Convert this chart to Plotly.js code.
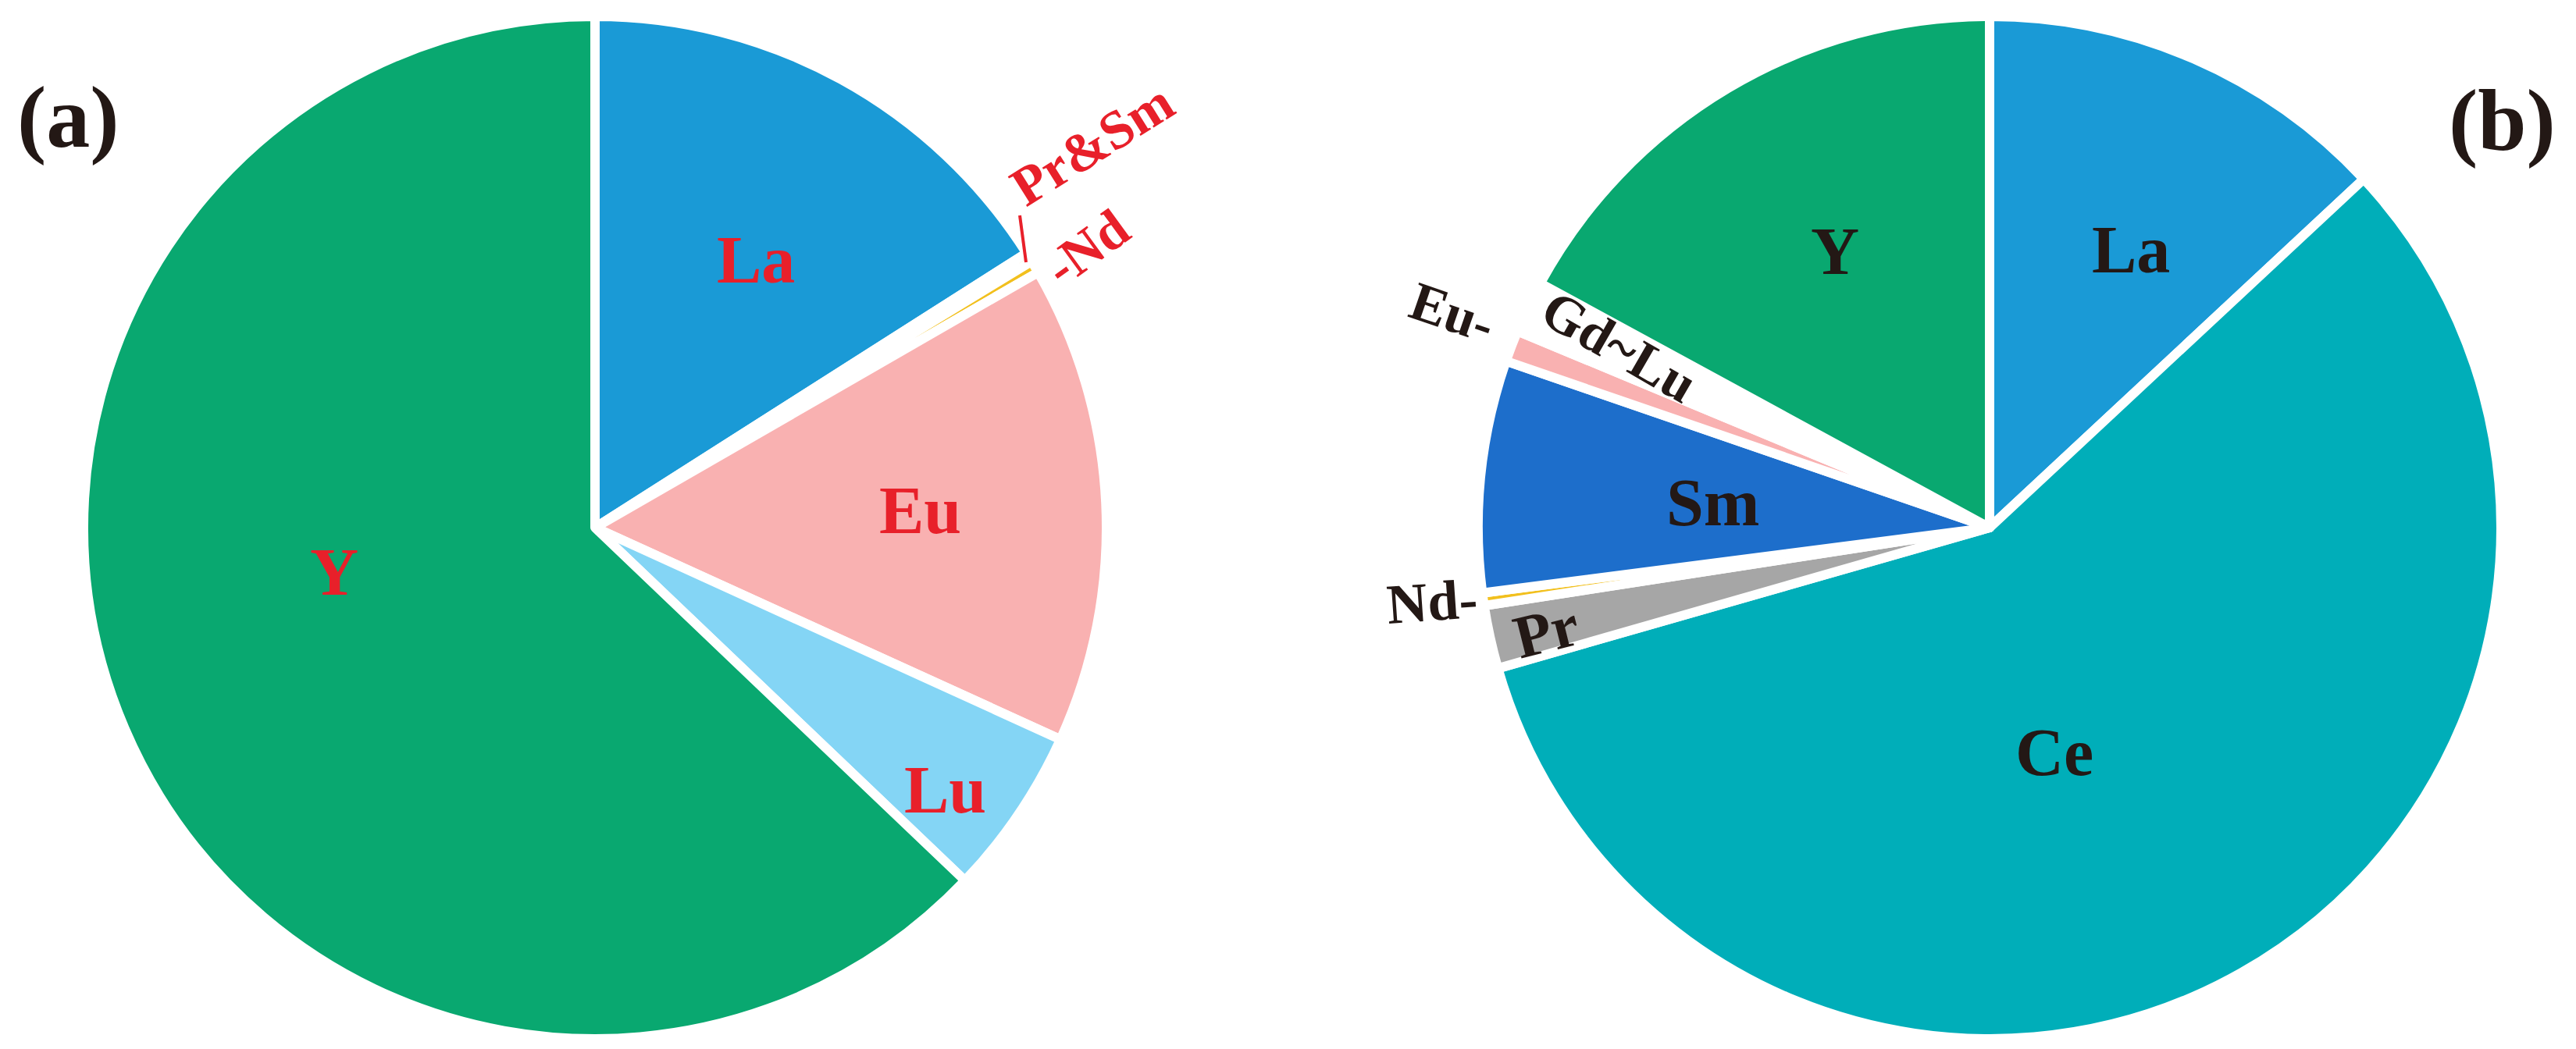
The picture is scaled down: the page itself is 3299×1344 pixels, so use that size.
<!DOCTYPE html>
<html>
<head>
<meta charset="utf-8">
<script src="https://cdn.plot.ly/plotly-3.0.1.min.js"></script>
<style>
  html, body { margin: 0; padding: 0; background: #ffffff; }
  #chart { width: 3299px; height: 1344px; }
</style>
</head>
<body>
<div id="chart"></div>
<script>
// ---------- data ----------
const categoriesA = ['La', 'Pr&Sm', 'Nd', 'Eu', 'Lu', 'Y'];
const valuesA     = [15.98, 0.30, 0.40, 15.12, 5.33, 62.87];

const categoriesB = ['La', 'Ce', 'Pr', 'Nd', 'Sm', 'Eu', 'Gd~Lu', 'Y'];
const valuesB     = [13.06, 57.50, 2.00, 0.40, 7.32, 1.00, 1.65, 17.07];

const panelLabels = ['(a)', '(b)'];

// ---------- styles ----------
const colorMap = {
  'La': '#1a9ad6', 'Ce': '#00aeb9', 'Pr': '#a6a6a6', 'Nd': '#f2c01e',
  'Pr&Sm': '#f5b400', 'Sm': '#1d6ecb', 'Eu': '#f9b1b1', 'Lu': '#84d5f5',
  'Gd~Lu': '#ffffff', 'Y': '#09a870'
};
const W = 3299, H = 1344;
const px = x => x / W;
const py = y => 1 - y / H;
const R = 655;
const cA = [762, 676], cB = [2548, 676];
const FONT = '"Liberation Serif", "Times New Roman", serif';
const RED = '#e8202a', BLACK = '#231815';

function pieTrace(labels, values, c) {
  return {
    type: 'pie',
    labels: labels,
    values: values,
    sort: false,
    direction: 'clockwise',
    rotation: 0,
    textinfo: 'none',
    hoverinfo: 'label+percent',
    showlegend: false,
    marker: {
      colors: labels.map(l => colorMap[l]),
      line: { color: '#ffffff', width: 12 }
    },
    domain: {
      x: [px(c[0] - R), px(c[0] + R)],
      y: [py(c[1] + R), py(c[1] - R)]
    }
  };
}

// label placements (pixel centres in the figure) — style/position only
const labelStyleA = {
  'La':    { x: 968,  y: 333, angle: 0,   size: 86, text: 'La' },
  'Pr&Sm': { x: 1398, y: 185, angle: -32, size: 70, text: 'Pr&amp;Sm' },
  'Nd':    { x: 1392, y: 318, angle: -36, size: 70, text: '-Nd' },
  'Eu':    { x: 1178, y: 654, angle: 0,   size: 86, text: 'Eu' },
  'Lu':    { x: 1210, y: 1012, angle: 0,  size: 86, text: 'Lu' },
  'Y':     { x: 428,  y: 733, angle: 0,   size: 86, text: 'Y' }
};
const labelStyleB = {
  'La':    { x: 2729, y: 320, angle: 0,   size: 86, text: 'La' },
  'Ce':    { x: 2631, y: 964, angle: 0,   size: 86, text: 'Ce' },
  'Pr':    { x: 1980, y: 808, angle: -14, size: 78, text: 'Pr' },
  'Nd':    { x: 1834, y: 771, angle: -4,  size: 72, text: 'Nd-' },
  'Sm':    { x: 2193, y: 644, angle: 0,   size: 86, text: 'Sm' },
  'Eu':    { x: 1860, y: 400, angle: 19,  size: 70, text: 'Eu-' },
  'Gd~Lu': { x: 2073, y: 444, angle: 30,  size: 70, text: 'Gd~Lu' },
  'Y':     { x: 2350, y: 322, angle: 0,   size: 86, text: 'Y' }
};

const annotations = [];
categoriesA.forEach(cat => {
  const s = labelStyleA[cat];
  annotations.push({
    xref: 'paper', yref: 'paper', x: px(s.x), y: py(s.y),
    xanchor: 'center', yanchor: 'middle', showarrow: false,
    text: '<b>' + s.text + '</b>', textangle: s.angle,
    font: { family: FONT, size: s.size, color: RED }
  });
});
categoriesB.forEach(cat => {
  const s = labelStyleB[cat];
  annotations.push({
    xref: 'paper', yref: 'paper', x: px(s.x), y: py(s.y),
    xanchor: 'center', yanchor: 'middle', showarrow: false,
    text: '<b>' + s.text + '</b>', textangle: s.angle,
    font: { family: FONT, size: s.size, color: BLACK }
  });
});
const panelPos = [[87, 150], [3204, 154]];
panelLabels.forEach((t, i) => {
  annotations.push({
    xref: 'paper', yref: 'paper', x: px(panelPos[i][0]), y: py(panelPos[i][1]),
    xanchor: 'center', yanchor: 'middle', showarrow: false,
    text: '<b>' + t + '</b>',
    font: { family: FONT, size: 112, color: BLACK }
  });
});

const shapes = [
  { type: 'line', xref: 'paper', yref: 'paper',
    x0: px(1306), y0: py(276), x1: px(1314), y1: py(336),
    line: { color: RED, width: 4 } }
];

const layout = {
  width: W, height: H,
  margin: { l: 0, r: 0, t: 0, b: 0, pad: 0 },
  paper_bgcolor: '#ffffff',
  plot_bgcolor: '#ffffff',
  showlegend: false,
  annotations: annotations,
  shapes: shapes
};

Plotly.newPlot('chart', [pieTrace(categoriesA, valuesA, cA), pieTrace(categoriesB, valuesB, cB)], layout,
  { displayModeBar: false, staticPlot: true });
</script>
</body>
</html>
